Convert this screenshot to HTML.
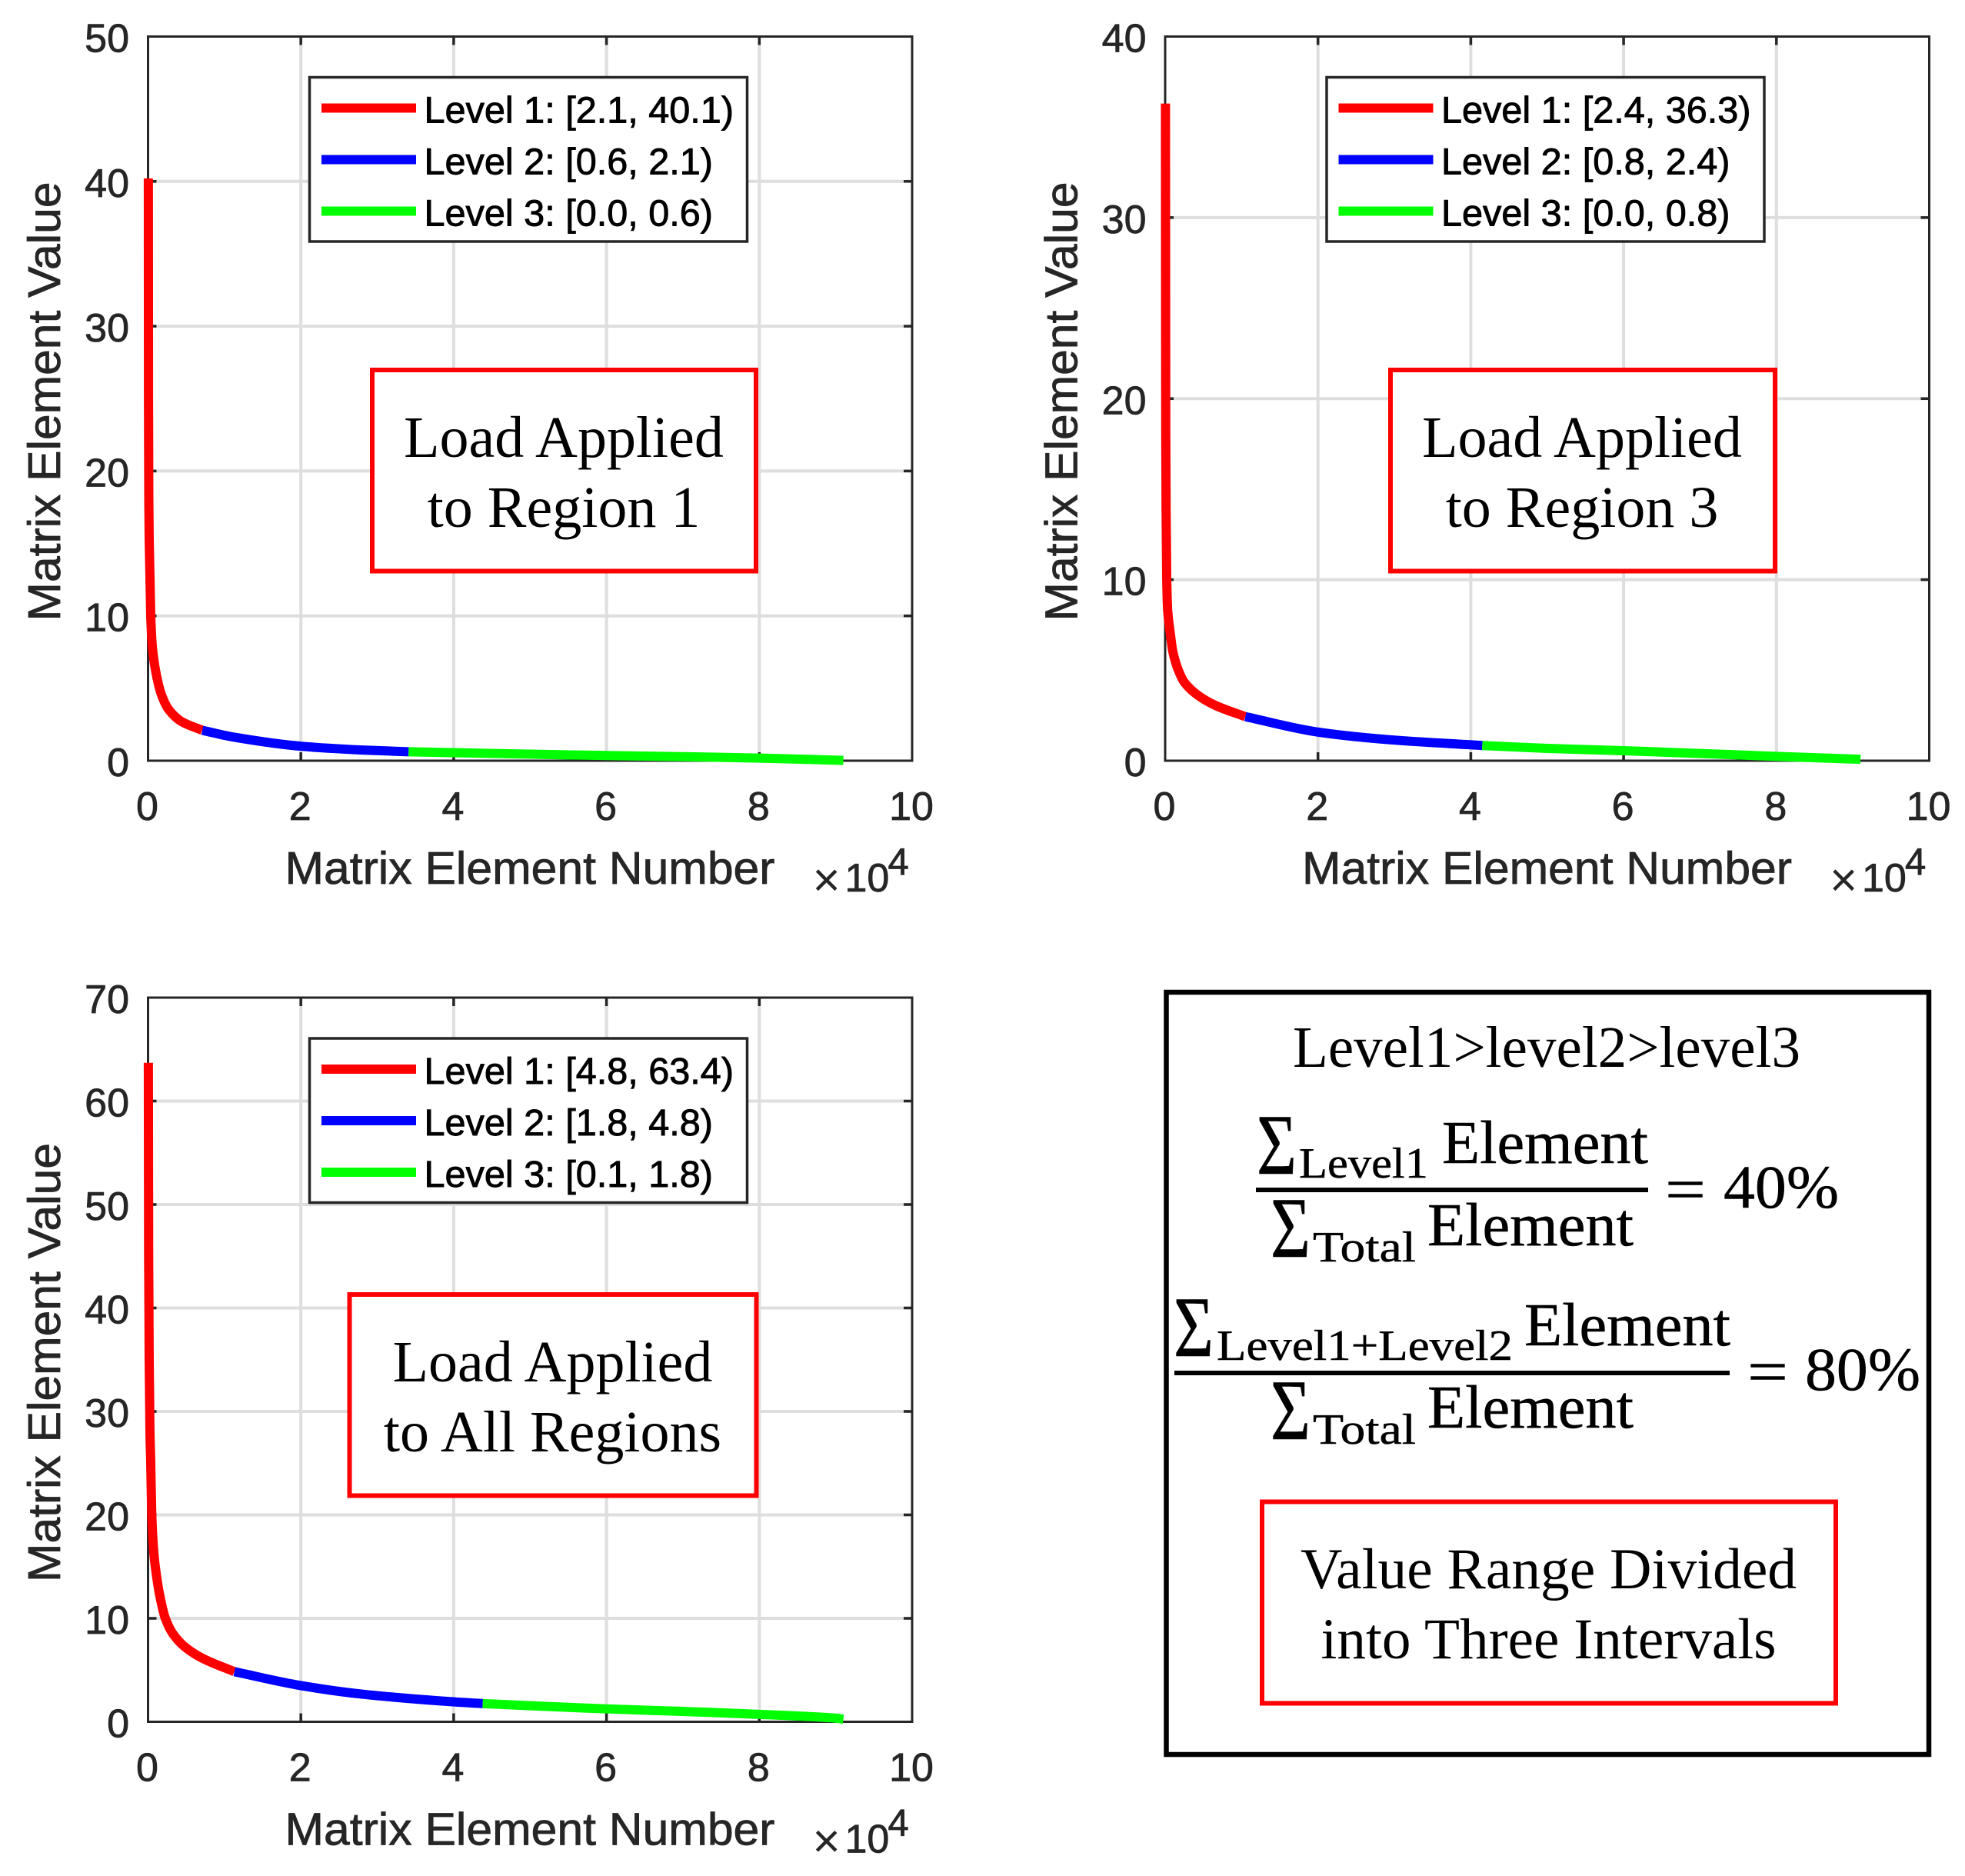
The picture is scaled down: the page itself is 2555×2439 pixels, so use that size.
<!DOCTYPE html>
<html lang="en">
<head>
<meta charset="utf-8">
<title>Matrix element value distributions</title>
<style>
html,body{margin:0;padding:0;background:#fff;width:2555px;height:2439px;overflow:hidden}
svg{display:block}
.sans{font-family:"Liberation Sans",Arial,sans-serif}
.serif{font-family:"Liberation Serif","Times New Roman",serif}
.heavy{stroke:#000;stroke-width:.9px}
.medium{stroke:#000;stroke-width:.5px}
</style>
</head>
<body>
<svg id="figure" xmlns="http://www.w3.org/2000/svg" width="2555" height="2439" viewBox="0 0 2555 2439">
  <rect x="0" y="0" width="2555" height="2439" fill="#fff"/>
  <g id="plots"></g>
  <g id="summary-panel" class="serif" fill="#000">
    <rect x="1516.5" y="1290" width="991.5" height="991" fill="#fff" stroke="#000" stroke-width="6.5"/>
    <text x="1681" y="1387" font-size="76" textLength="660" lengthAdjust="spacingAndGlyphs">Level1&gt;level2&gt;level3</text>

    <g>
      <text class="medium" x="1634" y="1526" font-size="112" textLength="52" lengthAdjust="spacingAndGlyphs">Σ</text>
      <text class="medium" x="1689" y="1531" font-size="56" textLength="168" lengthAdjust="spacingAndGlyphs">Level1</text>
      <text class="medium" x="1875" y="1512" font-size="79" textLength="268" lengthAdjust="spacingAndGlyphs">Element</text>
      <rect x="1633" y="1544" width="510" height="6" fill="#000"/>
      <text class="medium" x="1652" y="1634" font-size="112" textLength="52" lengthAdjust="spacingAndGlyphs">Σ</text>
      <text class="medium" x="1707" y="1640" font-size="56" textLength="134" lengthAdjust="spacingAndGlyphs">Total</text>
      <text class="medium" x="1856" y="1619" font-size="79" textLength="268" lengthAdjust="spacingAndGlyphs">Element</text>
      <text class="medium" x="2165" y="1573" font-size="79" textLength="53" lengthAdjust="spacingAndGlyphs">=</text>
      <text class="medium" x="2241" y="1570" font-size="79" textLength="150" lengthAdjust="spacingAndGlyphs">40%</text>
    </g>

    <g>
      <text class="medium" x="1526" y="1763" font-size="112" textLength="52" lengthAdjust="spacingAndGlyphs">Σ</text>
      <text class="medium" x="1582" y="1768" font-size="56" textLength="385" lengthAdjust="spacingAndGlyphs">Level1+Level2</text>
      <text class="medium" x="1982" y="1749" font-size="79" textLength="268" lengthAdjust="spacingAndGlyphs">Element</text>
      <rect x="1527" y="1782" width="722" height="6" fill="#000"/>
      <text class="medium" x="1652" y="1871" font-size="112" textLength="52" lengthAdjust="spacingAndGlyphs">Σ</text>
      <text class="medium" x="1707" y="1877" font-size="56" textLength="134" lengthAdjust="spacingAndGlyphs">Total</text>
      <text class="medium" x="1856" y="1856" font-size="79" textLength="268" lengthAdjust="spacingAndGlyphs">Element</text>
      <text class="medium" x="2272" y="1810" font-size="79" textLength="53" lengthAdjust="spacingAndGlyphs">=</text>
      <text class="medium" x="2347" y="1807" font-size="79" textLength="150" lengthAdjust="spacingAndGlyphs">80%</text>
    </g>

    <rect x="1641" y="1952.5" width="746" height="262" fill="#fff" stroke="#f00" stroke-width="6"/>
    <text x="1691" y="2065" font-size="75" textLength="645" lengthAdjust="spacingAndGlyphs">Value Range Divided</text>
    <text x="1717.5" y="2156" font-size="75" textLength="592" lengthAdjust="spacingAndGlyphs">into Three Intervals</text>
  </g>
</svg>

<script>
// Shared tick labels
const xTickValues = [0, 2, 4, 6, 8, 10];
const region1YTicks = [0, 10, 20, 30, 40, 50];
const region3YTicks = [0, 10, 20, 30, 40];
const allRegionsYTicks = [0, 10, 20, 30, 40, 50, 60, 70];

// Load applied to region 1 (x in units of 10^4)
const region1Level1X = [0.004, 0.006, 0.010, 0.015, 0.035, 0.058, 0.108, 0.175, 0.275, 0.44, 0.71];
const region1Level1Y = [40.2, 25, 18, 15.3, 10.0, 7.75, 5.96, 4.56, 3.5, 2.7, 2.1];
const region1Level2X = [0.71, 1.12, 2.0, 2.8, 3.41];
const region1Level2Y = [2.1, 1.63, 1.0, 0.74, 0.62];
const region1Level3X = [3.41, 5, 6, 7, 8, 9.1];
const region1Level3Y = [0.62, 0.45, 0.36, 0.28, 0.18, 0.02];
const region1Legend = ["Level 1: [2.1, 40.1)", "Level 2: [0.6, 2.1)", "Level 3: [0.0, 0.6)"];
const region1Note = ["Load Applied", "to Region 1"];

// Load applied to region 3
const region3Level1X = [0.004, 0.006, 0.008, 0.012, 0.02, 0.033, 0.067, 0.10, 0.168, 0.25, 0.42, 0.65, 1.05];
const region3Level1Y = [36.3, 25, 18, 14, 10.15, 8.3, 7.04, 6.04, 5.05, 4.34, 3.64, 3.07, 2.43];
const region3Level2X = [1.05, 2.0, 2.93, 4.15];
const region3Level2Y = [2.43, 1.58, 1.16, 0.84];
const region3Level3X = [4.15, 5, 6, 7, 8, 9.1];
const region3Level3Y = [0.84, 0.68, 0.55, 0.40, 0.24, 0.08];
const region3Legend = ["Level 1: [2.4, 36.3)", "Level 2: [0.8, 2.4)", "Level 3: [0.0, 0.8)"];
const region3Note = ["Load Applied", "to Region 3"];

// Load applied to all regions
const allRegionsLevel1X = [0.004, 0.008, 0.015, 0.025, 0.035, 0.048, 0.075, 0.109, 0.159, 0.226, 0.326, 0.477, 0.71, 1.13];
const allRegionsLevel1Y = [63.7, 45, 35, 28, 25.1, 20.2, 16.4, 14.2, 12, 10, 8.5, 7.27, 6.15, 4.84];
const allRegionsLevel2X = [1.13, 2.0, 2.79, 3.99, 4.38];
const allRegionsLevel2Y = [4.84, 3.5, 2.68, 1.93, 1.76];
const allRegionsLevel3X = [4.38, 5, 6, 7, 8, 9, 9.1];
const allRegionsLevel3Y = [1.76, 1.55, 1.25, 1.0, 0.72, 0.35, 0.25];
const allRegionsLegend = ["Level 1: [4.8, 63.4)", "Level 2: [1.8, 4.8)", "Level 3: [0.1, 1.8)"];
const allRegionsNote = ["Load Applied", "to All Regions"];

const seriesColors = ["#ff0000", "#0000ff", "#00ff00"];
const NS = "http://www.w3.org/2000/svg";
const root = document.getElementById("plots");

function el(parent, tag, attrs, text) {
  const node = document.createElementNS(NS, tag);
  for (const k in attrs) node.setAttribute(k, attrs[k]);
  if (text !== undefined) node.textContent = text;
  parent.appendChild(node);
  return node;
}

// Smooth path through the scaled data points (monotone cubic)
function smoothPath(px, py) {
  const n = px.length;
  const d = [], m = [];
  for (let i = 0; i < n - 1; i++) d.push((py[i + 1] - py[i]) / (px[i + 1] - px[i]));
  m[0] = d[0];
  m[n - 1] = d[n - 2];
  for (let i = 1; i < n - 1; i++) {
    m[i] = (d[i - 1] * d[i] <= 0) ? 0 : 2 * d[i - 1] * d[i] / (d[i - 1] + d[i]);
  }
  let s = "M" + px[0].toFixed(2) + " " + py[0].toFixed(2);
  for (let i = 0; i < n - 1; i++) {
    const h = (px[i + 1] - px[i]) / 3;
    s += " C" + (px[i] + h).toFixed(2) + " " + (py[i] + m[i] * h).toFixed(2) + " " +
         (px[i + 1] - h).toFixed(2) + " " + (py[i + 1] - m[i + 1] * h).toFixed(2) + " " +
         px[i + 1].toFixed(2) + " " + py[i + 1].toFixed(2);
  }
  return s;
}

function drawPlot(cfg) {
  const L = cfg.left, T = cfg.top, B = cfg.top + 941.5, R = L + 993.5;
  const xMax = 10, yMax = cfg.yTicks[cfg.yTicks.length - 1];
  const xScale = v => L + v / xMax * (R - L);
  const yScale = v => B - v / yMax * (B - T);
  const dark = "#262626";
  const heavyText = {stroke: dark, "stroke-width": 0.8};

  const g = el(root, "g", {});
  
  

  // gridlines
  xTickValues.slice(1, -1).forEach(v => {
    const line = el(g, "line", {x1: xScale(v), x2: xScale(v), y1: T, y2: B, stroke: "#dedede", "stroke-width": 4});
    
    
  });
  cfg.yTicks.slice(1, -1).forEach(v => {
    const line = el(g, "line", {x1: L, x2: R, y1: yScale(v), y2: yScale(v), stroke: "#dedede", "stroke-width": 4});
    
    
  });

  // ticks, all four sides
  xTickValues.slice(1, -1).forEach(v => {
    const a = el(g, "line", {x1: xScale(v), x2: xScale(v), y1: B, y2: B - 11, stroke: dark, "stroke-width": 3.5});
    
    
    const b = el(g, "line", {x1: xScale(v), x2: xScale(v), y1: T, y2: T + 11, stroke: dark, "stroke-width": 3.5});
    
    
  });
  cfg.yTicks.slice(1, -1).forEach(v => {
    const a = el(g, "line", {x1: L, x2: L + 11, y1: yScale(v), y2: yScale(v), stroke: dark, "stroke-width": 3.5});
    
    
    const b = el(g, "line", {x1: R, x2: R - 11, y1: yScale(v), y2: yScale(v), stroke: dark, "stroke-width": 3.5});
    
    
  });

  // axes box
  const box = el(g, "rect", {x: L, y: T, width: R - L, height: B - T, fill: "none", stroke: dark, "stroke-width": 3});
  
  

  // tick labels
  xTickValues.forEach(v => {
    const t = el(g, "text", Object.assign({x: xScale(v) - 1, y: B + 77, "font-size": 52, fill: dark, "text-anchor": "middle", class: "sans"}, heavyText), String(v));
    
    
  });
  cfg.yTicks.forEach(v => {
    const t = el(g, "text", Object.assign({x: L - 24.5, y: yScale(v) + 20, "font-size": 52, fill: dark, "text-anchor": "end", class: "sans"}, heavyText), String(v));
    
    
  });

  // axis titles
  const yt = el(g, "text", Object.assign({transform: "translate(" + (L - 114.5) + " " + (T + 760) + ") rotate(-90)", "font-size": 59, fill: dark, textLength: 571, lengthAdjust: "spacingAndGlyphs", class: "sans"}, heavyText), "Matrix Element Value");
  
  
  const xt = el(g, "text", Object.assign({x: L + 178, y: B + 160, "font-size": 59, fill: dark, textLength: 637, lengthAdjust: "spacingAndGlyphs", class: "sans"}, heavyText), "Matrix Element Number");
  
  

  // exponent
  const ex = el(g, "g", {fill: dark, class: "sans"});
  
  
  const e1 = el(ex, "text", {x: L + 864, y: B + 176, "font-size": 62}, "×");
  
  
  const e2 = el(ex, "text", Object.assign({x: L + 906, y: B + 170, "font-size": 52}, heavyText), "10");
  
  
  const e3 = el(ex, "text", Object.assign({x: L + 962, y: B + 148, "font-size": 49}, heavyText), "4");
  
  

  // series
  cfg.series.forEach((s, i) => {
    const px = s.x.map(xScale);
    const py = s.y.map(yScale);
    const line = el(g, "path", {d: smoothPath(px, py), fill: "none", stroke: seriesColors[i], "stroke-width": 12, "stroke-linejoin": "round", "stroke-linecap": "butt"});
    
    
  });

  // legend
  const lg = el(g, "g", {});
  
  
  const lgLeft = L + 210, lgTop = T + 53;
  const lgBox = el(lg, "rect", {x: lgLeft, y: lgTop, width: 569, height: 213.5, fill: "#fff", stroke: dark, "stroke-width": 3.5});
  
  
  cfg.legend.forEach((label, i) => {
    const yy = lgTop + 40 + i * 67;
    const sw = el(lg, "line", {x1: lgLeft + 15.5, x2: lgLeft + 138.5, y1: yy, y2: yy, stroke: seriesColors[i], "stroke-width": 12});
    
    
    const t = el(lg, "text", {x: lgLeft + 149, y: yy + 19, "font-size": 48.6, fill: "#000", class: "sans heavy"}, label);
    
    
  });

  // note box
  const n = cfg.note;
  const noteBox = el(g, "rect", {x: n.x, y: n.y, width: n.w, height: n.h, fill: "#fff", stroke: "#ff0000", "stroke-width": 6});
  
  
  cfg.noteLines.forEach((line, i) => {
    const t = el(g, "text", {x: n.cx, y: n.base + i * 91, "font-size": 76, fill: "#000", "text-anchor": "middle", class: "serif"}, line);
    
    
  });
}

drawPlot({
  name: "plot-region-1", left: 192.5, top: 47.5, yTicks: region1YTicks,
  series: [{x: region1Level1X, y: region1Level1Y}, {x: region1Level2X, y: region1Level2Y}, {x: region1Level3X, y: region1Level3Y}],
  legend: region1Legend, noteLines: region1Note,
  note: {x: 484, y: 481, w: 499, h: 261.5, cx: 733, base: 594}
});
drawPlot({
  name: "plot-region-3", left: 1515, top: 47.5, yTicks: region3YTicks,
  series: [{x: region3Level1X, y: region3Level1Y}, {x: region3Level2X, y: region3Level2Y}, {x: region3Level3X, y: region3Level3Y}],
  legend: region3Legend, noteLines: region3Note,
  note: {x: 1808, y: 481, w: 500, h: 261.5, cx: 2057, base: 594}
});
drawPlot({
  name: "plot-all-regions", left: 192.5, top: 1297, yTicks: allRegionsYTicks,
  series: [{x: allRegionsLevel1X, y: allRegionsLevel1Y}, {x: allRegionsLevel2X, y: allRegionsLevel2Y}, {x: allRegionsLevel3X, y: allRegionsLevel3Y}],
  legend: allRegionsLegend, noteLines: allRegionsNote,
  note: {x: 454.5, y: 1683, w: 529, h: 261.5, cx: 718.5, base: 1796}
});
</script>
</body>
</html>
